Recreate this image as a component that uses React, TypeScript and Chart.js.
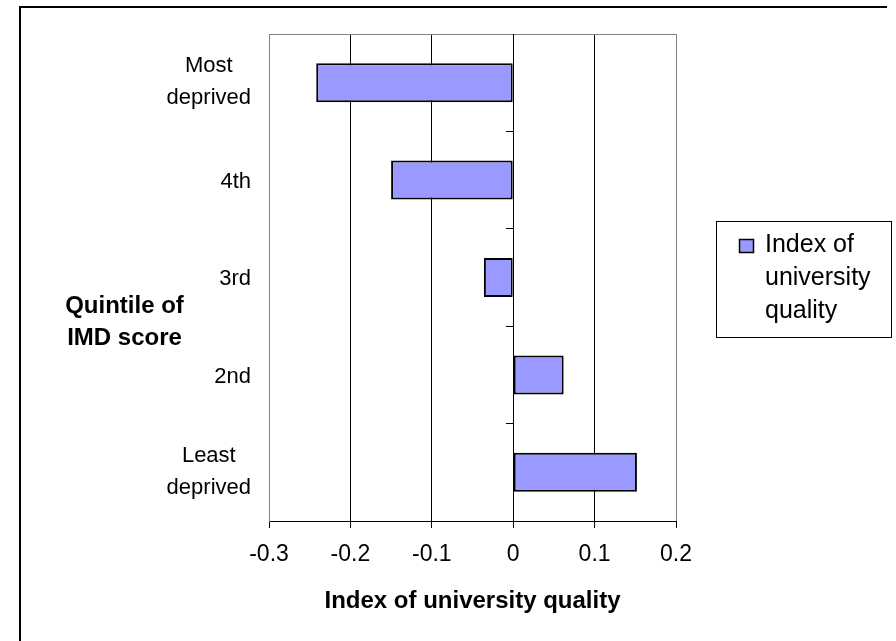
import React, { useEffect, useRef } from "react";
import { Chart, registerables } from "chart.js";

Chart.register(...registerables);

const CATEGORIES = ["Most deprived", "4th", "3rd", "2nd", "Least deprived"];
const VALUES = [-0.242, -0.15, -0.036, 0.062, 0.152];
const X_TICK_VALUES = [-0.3, -0.2, -0.1, 0, 0.1, 0.2];
const SERIES_LABEL = "Index of university quality";
const X_TITLE = "Index of university quality";
const Y_TITLE = ["Quintile of", "IMD score"];

const FONT = "'Liberation Sans', Arial, sans-serif";
const BAR_FILL = "#9999FF";

function wrap(ctx: CanvasRenderingContext2D, text: string, maxW: number): string[] {
  const words = text.split(" ");
  const lines: string[] = [];
  let cur = "";
  for (const w of words) {
    const t = cur ? cur + " " + w : w;
    if (cur && ctx.measureText(t).width > maxW) {
      lines.push(cur);
      cur = w;
    } else cur = t;
  }
  if (cur) lines.push(cur);
  return lines;
}

const decorPlugin = {
  id: "decor",
  beforeDraw(chart: any) {
    const ctx = chart.ctx as CanvasRenderingContext2D;
    ctx.save();
    ctx.fillStyle = "#fff";
    ctx.fillRect(0, 0, chart.width, chart.height);
    ctx.strokeStyle = "#000";
    ctx.lineWidth = 2;
    ctx.beginPath();
    ctx.moveTo(20, chart.height + 2);
    ctx.lineTo(20, 7);
    ctx.lineTo(887, 7);
    ctx.stroke();
    ctx.restore();
  },
  afterDraw(chart: any) {
    const ctx = chart.ctx as CanvasRenderingContext2D;
    const yScale = chart.scales.y;
    ctx.save();
    ctx.fillStyle = "#000";
    // category labels
    const catSize = 22;
    ctx.font = `${catSize}px ${FONT}`;
    ctx.textAlign = "center";
    ctx.textBaseline = "alphabetic";
    CATEGORIES.forEach((label, i) => {
      const cy = yScale.getPixelForValue(i);
      const lines = label.split(" ");
      const widest = Math.max(...lines.map((l) => ctx.measureText(l).width));
      const cx = 251 - widest / 2;
      const lh = 32;
      const start = lines.length > 1 ? cy - 2.5 - (lh * (lines.length - 1)) / 2 : cy;
      lines.forEach((l, k) => {
        ctx.fillText(l, cx, start + k * lh + catSize * 0.358);
      });
    });
    // y title
    const tSize = 24;
    ctx.font = `bold ${tSize}px ${FONT}`;
    ctx.textAlign = "center";
    Y_TITLE.forEach((l, k) => {
      ctx.fillText(l, 124.5, 313 + k * 32);
    });
    // legend
    ctx.lineWidth = 1;
    ctx.strokeStyle = "#000";
    ctx.strokeRect(716.5, 221.5, 175, 116);
    ctx.fillStyle = BAR_FILL;
    ctx.fillRect(739, 239, 15, 14);
    ctx.lineWidth = 1.5;
    ctx.strokeRect(739.5, 239.5, 14, 13);
    ctx.fillStyle = "#000";
    ctx.font = `25px ${FONT}`;
    ctx.textAlign = "left";
    const lines = wrap(ctx, SERIES_LABEL, 120);
    lines.forEach((l, k) => {
      ctx.fillText(l, 765, 252 + k * 33);
    });
    ctx.restore();
  },
};

export default function App() {
  const ref = useRef<HTMLCanvasElement | null>(null);
  useEffect(() => {
    if (!ref.current) return;
    const chart = new Chart(ref.current, {
      type: "bar",
      data: {
        labels: CATEGORIES,
        datasets: [
          {
            label: SERIES_LABEL,
            data: VALUES,
            backgroundColor: BAR_FILL,
            borderColor: "#000",
            borderWidth: 2,
            borderSkipped: false,
            barPercentage: 0.4,
            categoryPercentage: 1,
          },
        ],
      },
      options: {
        indexAxis: "y",
        animation: false,
        responsive: false,
        layout: { padding: { left: 0, top: 34, right: 220, bottom: 0 } },
        plugins: { legend: { display: false }, tooltip: { enabled: false } },
        scales: {
          x: {
            type: "linear",
            min: -0.3,
            max: 0.2,
            afterBuildTicks: (s: any) => {
              s.ticks = X_TICK_VALUES.map((v) => ({ value: v }));
            },
            afterFit: (s: any) => {
              s.height = 120;
            },
            grid: {
              color: (c: any) => {
                const v = c.tick ? c.tick.value : 0;
                return Math.abs(v + 0.3) < 1e-6 || Math.abs(v - 0.2) < 1e-6 ? "#808080" : "#000";
              },
              tickColor: "#000",
              tickLength: 7,
              drawTicks: true,
            },
            border: { color: "#000", width: 1 },
            ticks: {
              padding: 13,
              color: "#000",
              font: { family: FONT, size: 23 },
              callback: (v: any) => (Math.abs(v) < 1e-9 ? "0" : String(Number(Number(v).toFixed(1)))),
            },
            title: {
              display: true,
              text: X_TITLE,
              color: "#000",
              font: { family: FONT, size: 24, weight: "bold" },
              padding: { top: 0, bottom: 25 },
            },
          },
          y: {
            type: "category",
            position: "left",
            afterFit: (s: any) => {
              s.width = 269;
            },
            ticks: { display: false },
            grid: {
              offset: true,
              drawTicks: false,
              color: (c: any) => (c.index === 0 ? "#808080" : "rgba(0,0,0,0)"),
            },
            border: { color: "#808080", width: 1 },
          },
          y2: {
            type: "category",
            axis: "y",
            labels: CATEGORIES,
            position: { x: 0 },
            afterFit: (s: any) => {
              s.width = 0;
            },
            ticks: { display: false },
            grid: {
              offset: true,
              drawOnChartArea: false,
              drawTicks: true,
              tickLength: 7,
              color: (c: any) => (c.index === 0 ? "rgba(0,0,0,0)" : "#000"),
            },
            border: { color: "#000", width: 1 },
          },
        } as any,
      },
      plugins: [decorPlugin],
    });
    return () => chart.destroy();
  }, []);
  return (
    <div style={{ position: "absolute", left: 0, top: 0, width: 896, height: 641, overflow: "hidden" }}>
      <canvas ref={ref} width={896} height={641} style={{ display: "block" }} />
    </div>
  );
}
